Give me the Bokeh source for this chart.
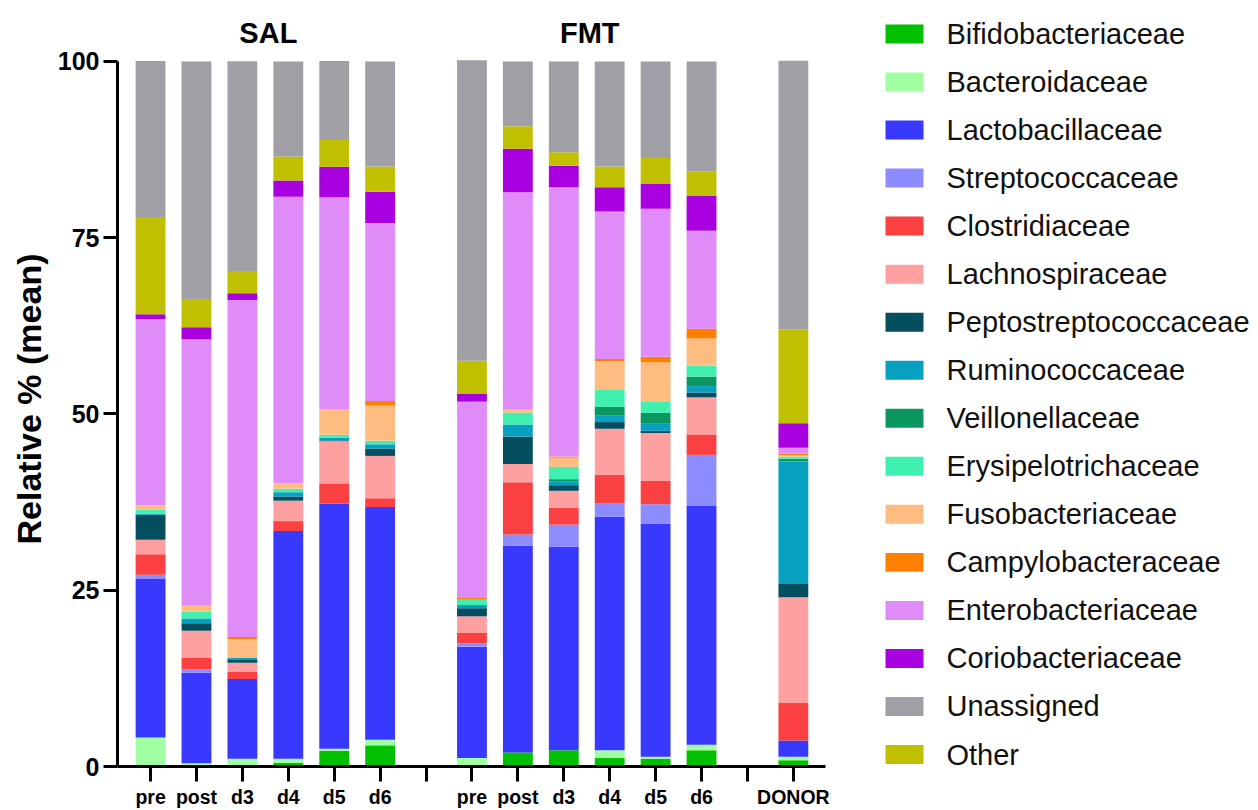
from bokeh.plotting import figure
from bokeh.models import Range1d, FixedTicker, Label, ColumnDataSource, Title
from bokeh.layouts import row
from bokeh.embed import file_html
from bokeh.resources import INLINE
from bokeh.core.properties import value

# ---- samples -------------------------------------------------------------
groups = ["SAL", "FMT"]
timepoints = ["pre", "post", "d3", "d4", "d5", "d6"]
donor = "DONOR"

# ---- families (legend order) and colours ---------------------------------
families = [
    "Bifidobacteriaceae", "Bacteroidaceae", "Lactobacillaceae",
    "Streptococcaceae", "Clostridiaceae", "Lachnospiraceae",
    "Peptostreptococcaceae", "Ruminococcaceae", "Veillonellaceae",
    "Erysipelotrichaceae", "Fusobacteriaceae", "Campylobacteraceae",
    "Enterobacteriaceae", "Coriobacteriaceae", "Unassigned", "Other",
]
colors = [
    "#00C000", "#A0FFA0", "#3838FF", "#8C8CFF", "#FA4040", "#FFA0A0",
    "#044E60", "#08A0C0", "#0C9660", "#40F0B0", "#FFBC80", "#FF8000",
    "#E08CF8", "#A800E0", "#A09FA6", "#C0C000",
]

# mean relative abundance (%), order:
# SAL pre, post, d3, d4, d5, d6 | FMT pre, post, d3, d4, d5, d6 | DONOR
bifidobacteriaceae    = [0.0, 0.1, 0.0, 0.5, 2.2, 3.0,   0.0, 2.0, 2.3, 1.2, 1.1, 2.3,   0.9]
bacteroidaceae        = [4.1, 0.35, 1.1, 0.6, 0.3, 0.8,  1.2, 0.0, 0.0, 1.1, 0.3, 0.8,   0.5]
lactobacillaceae      = [22.5, 12.85, 11.3, 32.3, 34.8, 33.0,  15.8, 29.3, 28.85, 33.1, 33.0, 33.85,  2.3]
streptococcaceae      = [0.6, 0.5, 0.0, 0.0, 0.0, 0.0,   0.5, 1.6, 3.15, 1.95, 2.8, 7.25,  0.0]
clostridiaceae        = [2.9, 1.6, 1.0, 1.4, 2.85, 1.25, 1.5, 7.4, 2.4, 4.05, 3.3, 2.9,   5.3]
lachnospiraceae       = [2.05, 3.85, 1.3, 2.9, 6.0, 6.0, 2.3, 2.6, 2.4, 6.5, 6.8, 5.25,  15.0]
peptostreptococcaceae = [3.55, 1.05, 0.4, 0.6, 0.1, 1.05, 1.15, 3.9, 0.8, 0.95, 0.3, 0.7, 1.9]
ruminococcaceae       = [0.2, 0.7, 0.3, 0.6, 0.4, 0.6,   0.45, 1.7, 0.5, 0.9, 1.1, 0.9,  17.35]
veillonellaceae       = [0.0, 0.0, 0.0, 0.0, 0.0, 0.0,   0.0, 0.0, 0.35, 1.25, 1.45, 1.35, 0.4]
erysipelotrichaceae   = [0.5, 1.0, 0.0, 0.5, 0.4, 0.5,   0.75, 1.7, 1.75, 2.5, 1.65, 1.55, 0.3]
fusobacteriaceae      = [0.65, 0.8, 2.7, 0.8, 3.6, 5.0,  0.0, 0.4, 1.3, 4.0, 5.5, 3.85,  0.2]
campylobacteraceae    = [0.0, 0.0, 0.27, 0.0, 0.0, 0.65, 0.35, 0.0, 0.15, 0.3, 0.8, 1.4,  0.25]
enterobacteriaceae    = [26.4, 37.8, 47.8, 40.6, 30.1, 25.25,  27.75, 30.85, 38.2, 20.9, 21.0, 13.9,  0.8]
coriobacteriaceae     = [0.7, 1.7, 0.95, 2.3, 4.3, 4.4,  1.15, 6.15, 3.05, 3.45, 3.5, 4.9,  3.5]
other                 = [13.8, 4.0, 3.15, 3.4, 3.8, 3.6, 4.65, 3.2, 1.9, 2.95, 3.7, 3.5,  13.3]
unassigned            = [22.1, 33.7, 29.75, 13.5, 11.2, 14.9,  42.6, 9.2, 12.9, 14.9, 13.7, 15.6,  38.1]

abundance = {
    "Bifidobacteriaceae": bifidobacteriaceae,
    "Bacteroidaceae": bacteroidaceae,
    "Lactobacillaceae": lactobacillaceae,
    "Streptococcaceae": streptococcaceae,
    "Clostridiaceae": clostridiaceae,
    "Lachnospiraceae": lachnospiraceae,
    "Peptostreptococcaceae": peptostreptococcaceae,
    "Ruminococcaceae": ruminococcaceae,
    "Veillonellaceae": veillonellaceae,
    "Erysipelotrichaceae": erysipelotrichaceae,
    "Fusobacteriaceae": fusobacteriaceae,
    "Campylobacteraceae": campylobacteraceae,
    "Enterobacteriaceae": enterobacteriaceae,
    "Coriobacteriaceae": coriobacteriaceae,
    "Unassigned": unassigned,
    "Other": other,
}

# stacking order, bottom to top ("Other" sits under "Unassigned")
stack_order = families[:14] + ["Other", "Unassigned"]
color_of = dict(zip(families, colors))

# ---- slot positions: each group gets one empty slot after it -------------
slot_of_bar = []
tick_labels = {}
slot = 0
for g in groups:
    for t in timepoints:
        slot_of_bar.append(slot)
        tick_labels[slot] = t
        slot += 1
    tick_labels[slot] = ""
    slot += 1
slot_of_bar.append(slot)
tick_labels[slot] = donor

data = {"x": slot_of_bar}
data.update(abundance)
source = ColumnDataSource(data)

FONT = "Liberation Sans"
FRAME_H = 767          # plot frame height in px (top of canvas to x axis)

# the y range reaches above 100 so the group headings sit inside the frame;
# the axis itself is bounded to 0-100
p = figure(
    width=840, height=810,
    x_range=Range1d(-0.72, 14.7), y_range=Range1d(0, 108.64),
    toolbar_location=None, output_backend="svg",
    min_border_left=117, min_border_right=15,
    min_border_top=0, min_border_bottom=810 - FRAME_H,
)
p.vbar_stack(
    stack_order, x="x", width=0.65, source=source,
    fill_color=[color_of[f] for f in stack_order],
    line_color=None,
)

p.xgrid.visible = False
p.ygrid.visible = False
p.outline_line_color = None

p.xaxis.ticker = FixedTicker(ticks=sorted(tick_labels))
p.xaxis.major_label_overrides = {k: v for k, v in tick_labels.items()}
p.yaxis.ticker = FixedTicker(ticks=[0, 25, 50, 75, 100])
p.yaxis.bounds = (0, 100)

for ax in (p.xaxis[0], p.yaxis[0]):
    ax.axis_line_width = 3
    ax.axis_line_color = "black"
    ax.major_tick_line_width = 3
    ax.major_tick_line_color = "black"
    ax.major_tick_in = 0
    ax.minor_tick_line_color = None
    ax.major_label_text_font = FONT
    ax.major_label_text_font_style = "bold"
    ax.major_label_text_color = "black"

p.xaxis.major_tick_out = 15
p.xaxis.major_label_standoff = 4
p.xaxis.major_label_text_font_size = "19.5px"

p.yaxis.major_tick_out = 14
p.yaxis.major_label_standoff = 4
p.yaxis.major_label_text_font_size = "25px"

# y title, started a fixed distance above the x axis so it sits centred
# on the 0-100 span of the axis
p.add_layout(Title(
    text="Relative % (mean)", align="left", offset=222, standoff=14,
    text_font=FONT, text_font_style="bold", text_font_size="34px",
    text_color="black",
), "left")

# group headings above the bars
for gi, g in enumerate(groups):
    centre = gi * (len(timepoints) + 1) + (len(timepoints) - 1) / 2
    p.add_layout(Label(
        x=centre, y=104, text=g, x_offset=3,
        text_align="center", text_baseline="alphabetic",
        text_font=FONT, text_font_style="bold", text_font_size="29px",
        text_color="black",
    ))

# ---- legend panel (frame is aligned with the chart frame) ----------------
leg = figure(
    width=418, height=810,
    x_range=Range1d(0, 418), y_range=Range1d(FRAME_H, 0),
    toolbar_location=None, output_backend="svg",
    min_border_left=0, min_border_right=0,
    min_border_top=0, min_border_bottom=810 - FRAME_H,
)
leg.axis.visible = False
leg.xgrid.visible = False
leg.ygrid.visible = False
leg.outline_line_color = None

row_y = [33.5 + 48.1 * i for i in range(len(families))]
leg_src = ColumnDataSource({"y": row_y, "name": families, "color": colors})
leg.rect(x=64, y="y", width=38, height=19, fill_color="color",
         line_color=None, source=leg_src)
leg.text(x=106, y="y", text="name", source=leg_src,
         text_font=value(FONT), text_font_size="29px",
         text_baseline="middle", text_align="left", text_color="#111111")

layout = row(p, leg)
open("out.html", "w").write(file_html(layout, INLINE))
